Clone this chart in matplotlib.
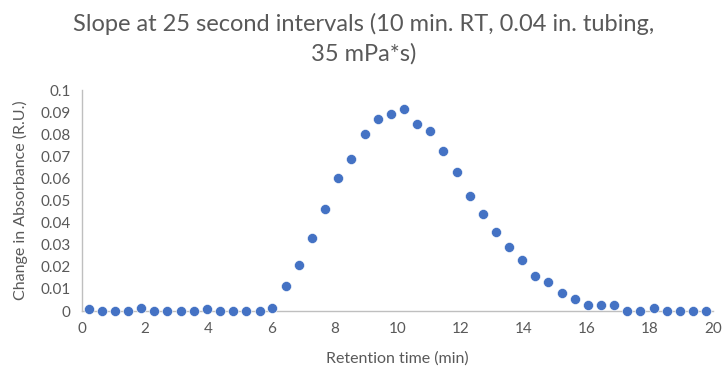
import matplotlib
matplotlib.use('Agg')
import matplotlib.pyplot as plt

# Retention time (min), sampled every 25 s
time_min = [0.21, 0.63, 1.04, 1.46, 1.88, 2.29, 2.71, 3.13, 3.54, 3.96,
            4.38, 4.79, 5.21, 5.63, 6.04, 6.46, 6.88, 7.29, 7.71, 8.13,
            8.54, 8.96, 9.38, 9.79, 10.21, 10.63, 11.04, 11.46, 11.88, 12.29,
            12.71, 13.13, 13.54, 13.96, 14.38, 14.79, 15.21, 15.63, 16.04, 16.46,
            16.88, 17.29, 17.71, 18.13, 18.54, 18.96, 19.38, 19.79]

# Change in absorbance (R.U.)
slope = [0.001, 0.0, 0.0, 0.0, 0.0015, 0.0, 0.0, 0.0, 0.0, 0.001,
         0.0, 0.0, 0.0, 0.0, 0.0015, 0.0115, 0.021, 0.033, 0.046, 0.060,
         0.069, 0.080, 0.087, 0.089, 0.0915, 0.0845, 0.0815, 0.0725, 0.063, 0.052,
         0.044, 0.036, 0.029, 0.023, 0.016, 0.013, 0.008, 0.0055, 0.0025, 0.0025,
         0.0025, 0.0, 0.0, 0.0012, 0.0, 0.0, 0.0, 0.0]

x_ticks = [0, 2, 4, 6, 8, 10, 12, 14, 16, 18, 20]
y_ticks = [0, 0.01, 0.02, 0.03, 0.04, 0.05, 0.06, 0.07, 0.08, 0.09, 0.1]
y_tick_labels = ['0', '0.01', '0.02', '0.03', '0.04', '0.05', '0.06', '0.07', '0.08', '0.09', '0.1']

plt.rcParams['font.family'] = ['Lato', 'DejaVu Sans']
grey = '#595959'

fig = plt.figure(figsize=(7.28, 3.71), dpi=100)
ax = fig.add_axes([0.1126, 0.1617, 0.8664, 0.5953])

ax.scatter(time_min, slope, s=52, color='#4472C4', edgecolors='white',
           linewidths=0.4, zorder=3, clip_on=False)

ax.set_xlim(0, 20)
ax.set_ylim(0, 0.1)
ax.set_xticks(x_ticks)
ax.set_xticklabels([str(t) for t in x_ticks])
ax.set_yticks(y_ticks)
ax.set_yticklabels(y_tick_labels)
ax.tick_params(length=0, labelsize=11, colors=grey, pad=8)

for side in ['top', 'right']:
    ax.spines[side].set_visible(False)
for side in ['left', 'bottom']:
    ax.spines[side].set_color('#BFBFBF')
    ax.spines[side].set_linewidth(1)

ax.set_xlabel('Retention time (min)', fontsize=11.5, color=grey, labelpad=11)
ax.set_ylabel('Change in Absorbance (R.U.)', fontsize=11.5, color=grey, labelpad=9)

fig.text(0.5, 0.965, 'Slope at 25 second intervals (10 min. RT, 0.04 in. tubing,\n35 mPa*s)',
         ha='center', va='top', fontsize=17, color=grey, linespacing=1.45)

fig.savefig('out.png', dpi=100)
